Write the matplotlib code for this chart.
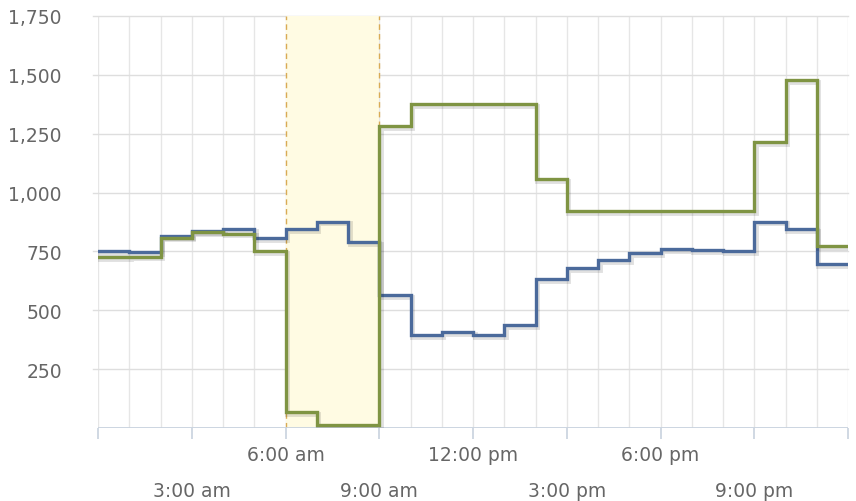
import matplotlib
matplotlib.use("Agg")
import matplotlib.pyplot as plt
import matplotlib.patheffects as pe
import numpy as np

hours = list(range(24))
blue_vals = [752, 748, 815, 837, 845, 807, 845, 877, 790, 565, 395, 408, 395, 438,
             633, 680, 714, 743, 760, 756, 752, 877, 845, 697]
green_vals = [726, 728, 808, 832, 825, 752, 68, 13, 13, 1283, 1376, 1376, 1376, 1376,
              1058, 922, 922, 922, 922, 922, 922, 1215, 1478, 773]
y_ticks = [250, 500, 750, 1000, 1250, 1500, 1750]
x_label_pos = [3, 6, 9, 12, 15, 18, 21]
x_labels = ["3:00 am", "6:00 am", "9:00 am", "12:00 pm", "3:00 pm", "6:00 pm", "9:00 pm"]
band = (6, 9)

fig = plt.figure(figsize=(8.56, 5.02), dpi=100)
ax = fig.add_axes([98/856, 1-429/502, 750/856, 412/502])
ax.set_xlim(0, 24)
ax.set_ylim(0, 1750)

# grid
for h in range(0, 25):
    ax.axvline(h, color="#e6e6e6", lw=1, zorder=0)
for v in y_ticks:
    ax.axhline(v, color="#dedede", lw=1, zorder=0, xmin=-0.007, clip_on=False)

# plot band
ax.axvspan(band[0], band[1], color="#fffbe3", zorder=0.5, lw=0)
for b in band:
    ax.axvline(b, color="#d9ab55", lw=1, ls=(0, (4, 3)), zorder=0.6)

def stepline(vals, color):
    xs = list(hours) + [24]
    ys = list(vals) + [vals[-1]]
    ax.step(xs, ys, where="post", color=color, lw=2.4, zorder=3,
            solid_joinstyle="miter",
            path_effects=[pe.SimpleLineShadow(offset=(1.2, -1.2), shadow_color="#000000", alpha=0.12, linewidth=3.5),
                          pe.Normal()])

stepline(blue_vals, "#4b6a9b")
stepline(green_vals, "#7f9443")

for s in ax.spines.values():
    s.set_visible(False)
ax.axhline(0, color="#c8d2de", lw=2, zorder=2)

ax.set_yticks(y_ticks)
ax.set_yticklabels([f"{v:,}" for v in y_ticks], color="#666666", fontsize=13.5)
ax.tick_params(axis="y", length=0, pad=26)
ax.set_xticks(range(0, 25, 3))
ax.set_xticklabels([])
ax.tick_params(axis="x", length=8, width=1.2, color="#c8d2de", direction="out", pad=0)

for i, (p, lab) in enumerate(zip(x_label_pos, x_labels)):
    top = (p // 3) % 2 == 0
    ax.annotate(lab, xy=(p, 0), xycoords=("data", "axes fraction"),
                xytext=(0, -19 if top else -45), textcoords="offset points",
                ha="center", va="center", color="#666666", fontsize=13.5)

fig.savefig("out.png", dpi=100)
